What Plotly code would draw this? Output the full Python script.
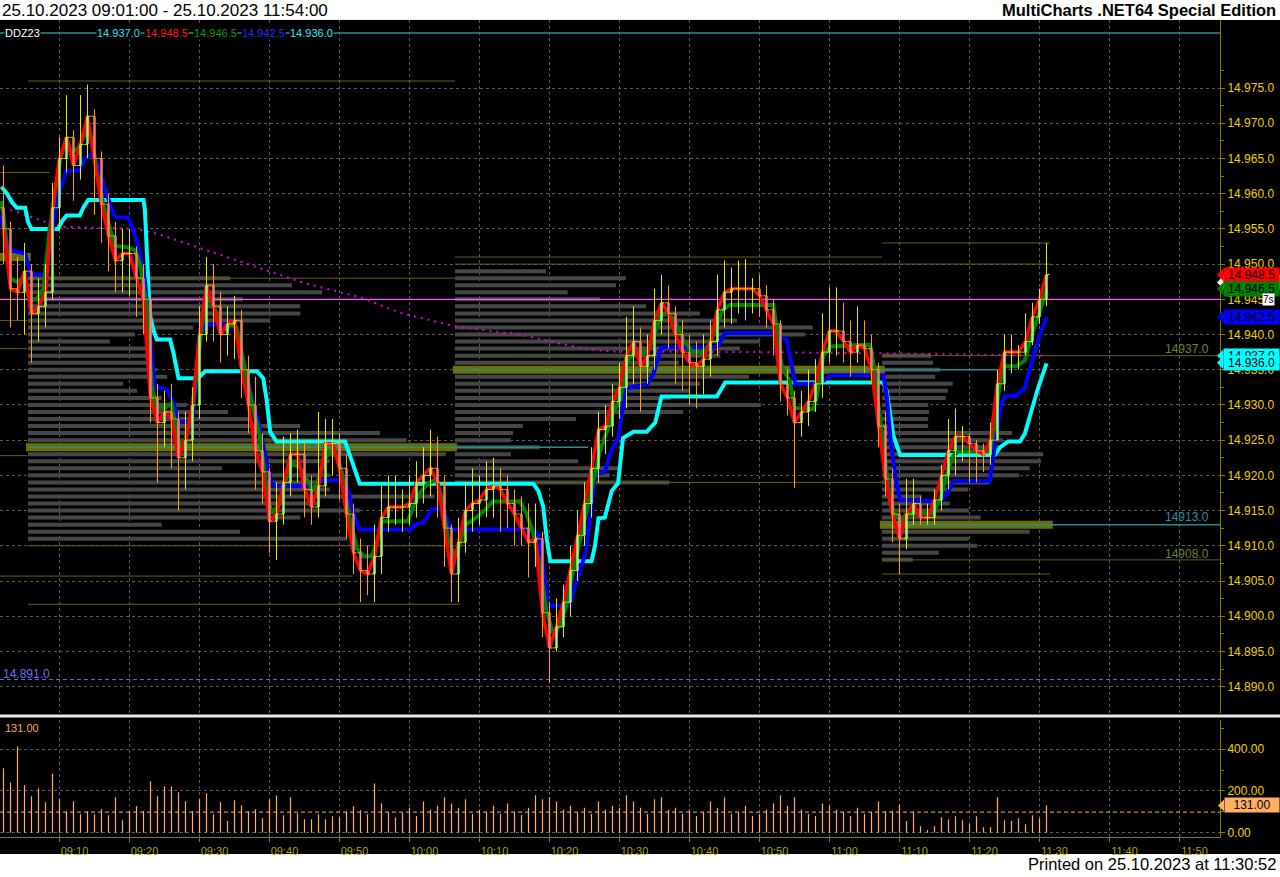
import plotly.graph_objects as go

W, H = 1280, 877


def px_x(x):
    return x / W


def px_y(y):
    return 1 - y / H


# ---------------- data ----------------
# 1-minute bars, labelled by close time (minutes after 09:00)
bar_min = list(range(2, 152))
first_open = 14958.0
closes = [
    14955, 14946.5, 14946, 14949, 14943, 14944, 14946, 14958, 14965, 14968,
    14964, 14967, 14971, 14965, 14958.5, 14954, 14950.5, 14951.5, 14951.5, 14948,
    14945, 14931, 14927.5, 14929, 14928, 14922.5, 14925, 14930, 14940, 14947,
    14944, 14940, 14941.5, 14942, 14935, 14930, 14923.5, 14920.5, 14913.5, 14914.5,
    14919, 14923, 14923, 14918, 14915.5, 14918.5, 14924.5, 14924.5, 14921, 14914.5,
    14909, 14906.5, 14906, 14908.5, 14914, 14915.5, 14915.5, 14915.5, 14916, 14919,
    14920, 14921, 14919, 14912.5, 14906, 14910.5, 14915, 14916, 14916.5, 14918,
    14918.5, 14918, 14916, 14914.5, 14912.5, 14910.5, 14911, 14900.5, 14895.5, 14898.5,
    14902, 14906.5, 14911.5, 14916, 14921, 14926.5, 14927, 14930.5, 14932.5, 14937,
    14939, 14935.5, 14937, 14942, 14944.5, 14943, 14940, 14937.5, 14936, 14935.5,
    14936.5, 14939, 14943.5, 14946, 14946.5, 14946.5, 14946.5, 14946.5, 14945.5, 14943.5,
    14941.5, 14933, 14931, 14927.5, 14929, 14930.5, 14933, 14937.5, 14940.5, 14940.5,
    14939, 14937.5, 14938.5, 14938, 14935, 14927, 14919.5, 14914.5, 14911, 14914.5,
    14916, 14914, 14914, 14916.5, 14920, 14923.5, 14925.5, 14925.5, 14924.5, 14923.5,
    14923, 14925, 14933, 14937.5, 14937.5, 14937.5, 14939, 14942.5, 14945, 14948.5,
]
highs = [
    14964, 14956, 14951, 14953, 14950, 14948, 14950, 14961.5, 14968, 14974,
    14969, 14974, 14975.5, 14972, 14966, 14960, 14956, 14955, 14955, 14952.5,
    14950, 14945, 14933, 14932, 14933, 14929, 14929, 14932.5, 14944, 14951,
    14950, 14946, 14944, 14945.5, 14943.5, 14937, 14934, 14926, 14921, 14919,
    14925.5, 14926, 14926.5, 14925, 14920, 14929, 14928, 14928, 14926, 14923,
    14916, 14911, 14910, 14913, 14919, 14920, 14920, 14918, 14920, 14922,
    14924, 14926.5, 14925.5, 14920, 14913, 14914, 14919, 14921, 14920, 14922,
    14922.5, 14921, 14920, 14918, 14917, 14916, 14916, 14912, 14902, 14902.5,
    14904.5, 14910, 14915, 14919, 14924, 14929, 14930, 14933, 14936, 14942.5,
    14944, 14941, 14940, 14946.5, 14948.5, 14947, 14944, 14942, 14940, 14939,
    14940, 14942, 14948.5, 14950.5, 14949.5, 14950.5, 14950.7, 14948, 14948.5, 14947,
    14945, 14942, 14935, 14932, 14932, 14935, 14936.5, 14943, 14946.7, 14946.7,
    14944.5, 14942, 14944, 14942, 14940, 14936, 14929, 14921, 14916, 14919.5,
    14919.5, 14917, 14916, 14918, 14921.5, 14928, 14929.5, 14927, 14926, 14925,
    14924.5, 14927.5, 14935, 14940, 14940, 14938.5, 14943, 14944.5, 14946.5, 14953,
]
lows = [
    14950, 14941, 14942, 14940, 14936, 14939, 14941, 14945, 14955, 14963,
    14959, 14962, 14965, 14957, 14953, 14949, 14946, 14946, 14945.5, 14942.5,
    14940, 14927.5, 14919, 14924, 14921, 14915, 14918, 14922, 14928, 14939,
    14939, 14936, 14937, 14936.5, 14931, 14926, 14918, 14916, 14909, 14908,
    14913, 14917, 14919, 14914, 14913, 14914, 14917, 14920, 14916.5, 14911,
    14906, 14902, 14903, 14902, 14906, 14912, 14913, 14912, 14913, 14914,
    14916, 14917, 14914, 14907, 14902, 14902, 14909, 14912, 14913, 14914,
    14914, 14912, 14912.5, 14910, 14910, 14905.5, 14907, 14897, 14890.5, 14895,
    14897, 14900, 14905, 14910, 14914, 14919, 14923, 14925.5, 14928, 14929.5,
    14933, 14929, 14933, 14935, 14940, 14938, 14933, 14932, 14930, 14929.5,
    14931.5, 14934, 14937, 14941, 14941.5, 14943, 14942, 14943, 14942.5, 14941,
    14937, 14930.5, 14928.5, 14918.2, 14925.5, 14927, 14929, 14931, 14936, 14937,
    14936, 14934, 14936, 14934.5, 14933, 14924, 14917, 14910.5, 14906, 14909.5,
    14913, 14913, 14913, 14913, 14915, 14918, 14920, 14922, 14919, 14919,
    14920.5, 14921.5, 14925, 14932, 14934.5, 14935, 14937, 14938.5, 14941.5, 14944,
]
volumes = [
    309, 241, 413, 227, 175, 213, 146, 284, 160, 103,
    151, 89, 103, 89, 113, 84, 170, 60, 103, 127,
    103, 246, 175, 222, 222, 194, 151, 103, 160, 189,
    89, 146, 56, 156, 132, 103, 113, 70, 160, 179,
    84, 170, 94, 65, 65, 89, 65, 79, 75, 103,
    127, 108, 89, 236, 141, 98, 75,
    95, 120, 80, 150, 110, 130, 170, 140, 120, 160,
    90, 110, 100, 130, 90, 140, 100, 85, 120, 180,
    160, 170, 150, 110, 130, 100, 120, 90, 150, 110,
    130, 120, 180, 150, 120, 90, 160, 170, 110, 120,
    90, 110, 80, 100, 150, 120, 170, 90, 100, 130,
    80, 90, 110, 140, 180, 130, 170, 110, 90, 80,
    140, 130, 110, 100, 80, 120, 90, 100, 150,
    103, 106, 136, 56, 102, 32, 13, 32, 75, 65,
    79, 60, 41, 79, 27, 27, 170, 60, 56, 70,
    41, 84, 70, 131,
]
vol_avg = 99.0

# indicator lines (knots: minute, price)
green_t = [1.7, 2.0, 2.9, 3.9, 4.8, 5.8, 6.7, 7.7, 8.6, 9.4, 10.1, 11.0, 11.7, 12.7, 13.9, 14.6, 15.3, 16.3,
           17.2, 17.9, 19.6, 20.8, 21.5, 22.5, 23.2, 23.9, 25.1, 26.0, 27.0, 27.9, 28.9, 29.8, 30.5, 31.3,
           32.2, 33.2, 34.4, 35.3, 36.3, 37.5, 38.6, 39.6, 40.3, 41.3, 42.2, 43.2, 44.4, 45.3, 46.3, 47.2,
           47.9, 48.6, 49.6, 50.3, 51.3, 52.5, 53.4, 54.6, 55.3, 56.0, 59.8, 60.8, 61.7, 62.7, 63.9, 64.6,
           65.5, 66.5, 67.2, 67.9, 68.9, 70.3, 71.9, 75.8, 76.7, 77.7, 78.6, 79.6, 80.5, 81.5, 82.5, 83.4,
           84.4, 85.3, 86.3, 87.2, 88.2, 89.1, 90.1, 91.0, 92.0, 93.9, 94.8, 95.8, 96.7, 97.9, 99.1, 100.5,
           102.0, 102.9, 103.9, 104.8, 105.8, 111.0, 112.0, 112.5, 113.2, 114.3, 115.0, 117.7, 118.2, 119.1,
           120.1, 124.4, 125.8, 126.3, 127.0, 128.0, 128.6, 129.3, 130.3, 131.0, 134.8, 135.8, 136.7, 137.7,
           138.4, 142.9, 143.6, 144.4, 145.0, 146.7, 147.9, 148.8, 149.8, 151.0]
green_v = [14959, 14957, 14948, 14947.5, 14948, 14945, 14945, 14946.5, 14955, 14960, 14965, 14967.8, 14965.8,
           14966.5, 14969, 14968, 14963.3, 14958.3, 14955, 14952.6, 14952.4, 14952, 14950, 14943.9, 14932.4,
           14929.6, 14929.6, 14930.2, 14924.5, 14924.5, 14928.5, 14937, 14942.6, 14945.3, 14943.6, 14940.3,
           14941.4, 14941, 14935.8, 14930.2, 14925.7, 14918, 14914.6, 14915.7, 14919, 14921.7, 14921, 14919.5,
           14917.8, 14920, 14922.3, 14923.4, 14923, 14920.6, 14914.6, 14909.6, 14908.5, 14908.5, 14910.2,
           14913.5, 14913.5, 14916.3, 14917.8, 14918.9, 14919.4, 14916.7, 14911.1, 14908.5, 14910.2, 14913,
           14913.5, 14914.6, 14916.3, 14916.3, 14914.6, 14911.7, 14907.2, 14900.5, 14897.6, 14898.7, 14901.9,
           14906.5, 14911, 14914.6, 14919.6, 14923.4, 14926.2, 14929, 14930.7, 14935.8, 14937.5, 14937.5,
           14939.2, 14942.5, 14943.1, 14942, 14939.2, 14937.5, 14937.5, 14938.6, 14941.4, 14943.6, 14944.2,
           14944.2, 14944.2, 14940.4, 14935.3, 14933.5, 14929.6, 14929.4, 14931.3, 14937, 14938.3, 14938.5,
           14938.5, 14935.8, 14930.2, 14922.3, 14916.7, 14914.6, 14913.5, 14914.6, 14914.6, 14916.7, 14920,
           14922.8, 14923.4, 14923.4, 14927.3, 14933.5, 14935.5, 14935.5, 14936.3, 14939.7, 14942.5, 14946.5]
blue_t = [1.7, 2.2, 2.9, 5.1, 5.8, 7.9, 8.6, 9.4, 10.1, 11.0, 12.9, 13.6, 14.4, 15.1, 15.8, 16.7, 17.7, 18.2,
          19.8, 20.5, 21.5, 22.2, 22.7, 23.2, 23.6, 24.8, 25.5, 26.3, 27.0, 28.9, 29.6, 30.1, 30.8, 34.8,
          35.5, 36.3, 37.0, 37.7, 38.6, 39.6, 40.3, 41.0, 46.3, 47.2, 50.8, 51.5, 52.2, 52.9, 60.1, 60.8,
          62.0, 63.2, 64.8, 65.5, 65.9, 77.7, 78.4, 79.1, 79.8, 82.9, 83.6, 84.4, 85.1, 85.8, 86.5, 87.9,
          88.9, 89.8, 90.3, 91.0, 93.9, 94.8, 95.5, 96.0, 103.9, 105.1, 112.0, 113.9, 114.6, 115.1, 118.6,
          120.1, 127.7, 128.2, 128.7, 129.4, 130.1, 135.8, 136.7, 137.7, 142.9, 143.6, 144.4, 145.0, 146.7,
          147.9, 148.8, 149.8, 151.0]
blue_v = [14957, 14953.8, 14952, 14951.5, 14948.7, 14948.4, 14952, 14957.7, 14960.5, 14963.3, 14963.3, 14965,
          14965.5, 14965.2, 14962.8, 14960, 14957.1, 14956.6, 14956.6, 14955, 14951.5, 14947.6, 14941.5, 14937,
          14932.4, 14932.4, 14931.9, 14930.2, 14927.6, 14927.6, 14933.5, 14939.7, 14941.4, 14941.4, 14939.2,
          14935.8, 14933, 14930.2, 14926.8, 14921.7, 14918.9, 14918.5, 14918.5, 14919.2, 14919.4, 14916.7,
          14913.9, 14912.3, 14912.3, 14913, 14913.3, 14915.2, 14915.2, 14913.3, 14912.3, 14912.3, 14911.6,
          14907.1, 14901.5, 14901.5, 14904.3, 14906.6, 14908.8, 14914, 14920.1, 14920.5, 14923.7, 14925.3,
          14928.7, 14932.4, 14932.9, 14934.3, 14936.6, 14938.2, 14938.2, 14940.2, 14940.2, 14939.2, 14935.6,
          14933, 14933, 14934.2, 14934.2, 14931.1, 14925.3, 14919.7, 14916.5, 14916.3, 14917.3, 14919.2,
          14919.2, 14924.4, 14929.6, 14931.3, 14931.3, 14932.4, 14935.8, 14939.2, 14942.5]
cyan_t = [1.7, 2.5, 3.2, 3.9, 5.1, 5.5, 6.0, 9.8, 10.3, 11.0, 12.9, 13.4, 14.1, 22.0, 22.2, 22.5, 22.9, 23.4,
          23.9, 25.8, 26.3, 27.0, 29.8, 30.8, 38.2, 39.1, 39.6, 40.1, 41.0, 50.8, 51.5, 52.5, 52.9, 77.7,
          78.4, 79.1, 79.6, 80.1, 86.0, 86.5, 87.0, 87.9, 88.9, 89.8, 90.5, 92.0, 93.9, 95.1, 96.0, 103.9,
          105.1, 127.7, 128.2, 128.7, 129.1, 130.1, 143.6, 144.4, 145.5, 147.2, 147.9, 148.8, 149.8, 151.0]
cyan_v = [14961, 14960, 14958.8, 14958, 14958, 14956, 14955, 14955, 14956, 14956.9, 14956.9, 14958, 14959.1,
          14959.1, 14957.7, 14951.4, 14942.9, 14940.7, 14939.3, 14939.3, 14937.3, 14933.8, 14933.8, 14934.8,
          14934.8, 14933.8, 14930.7, 14926.2, 14924.8, 14924.8, 14922.8, 14920, 14918.8, 14918.8, 14917.8,
          14915.6, 14911, 14907.8, 14907.8, 14910, 14913.9, 14914, 14917.8, 14918.9, 14925.3, 14926.2,
          14926.2, 14927.5, 14931.2, 14931.2, 14933.2, 14933.2, 14931.8, 14928.5, 14925.7, 14922.9, 14922.9,
          14924, 14924.8, 14924.8, 14925.9, 14929, 14932.4, 14935.9]
vwap_t = [3.0, 10.0, 21.0, 24.0, 45.0, 52.9, 58.6, 66.7, 75.8, 84.8, 88.6, 110.0, 130.0, 151.0]
vwap_v = [14957.7, 14955.3, 14955.0, 14954.3, 14947.3, 14945.3, 14943.1, 14941.1, 14940.0, 14938.0,
          14937.6, 14937.5, 14937.3, 14937.0]

# volume profiles: start minute, price levels, bar lengths (minutes-equivalent)
profA_start = 5.5
profA_prices = [14948, 14947, 14946, 14945, 14944, 14943, 14942, 14941, 14940, 14939, 14938, 14937, 14936,
                14935, 14934, 14933, 14932, 14931, 14930, 14929, 14928, 14927, 14926, 14925, 14923, 14922,
                14921, 14920, 14919, 14918, 14917, 14916, 14915, 14914, 14913, 14912, 14911]
profA_len = [28.9, 37.7, 42.0, 30.7, 38.9, 38.9, 34.6, 23.6, 15.3, 11.7, 17.4, 17.0, 17.0, 18.4, 19.9, 13.6,
             15.6, 19.1, 22.7, 28.6, 31.7, 38.9, 50.3, 54.1, 59.7, 43.1, 27.7, 43.1, 41.7, 43.1, 58.1, 41.7,
             47.4, 38.9, 19.1, 30.3, 45.6]
profB_start = 66.5
profB_prices = [14949, 14948, 14947, 14946, 14945, 14944, 14943, 14942, 14941, 14940, 14939, 14938, 14937,
                14936, 14934, 14933, 14932, 14931, 14930, 14929, 14928, 14927, 14926, 14925, 14924, 14923,
                14922, 14921, 14920, 14919]
profB_len = [13, 24.4, 23, 16.1, 20.7, 27.3, 35, 40.3, 51.1, 50, 43.6, 40.7, 37.9, 32, 42, 35, 33.6, 30.9,
             43.7, 32.6, 17.3, 9.7, 8.3, 8, 12.1, 8, 17.6, 23.6, 22.1, 30.6]
profC_start = 127.5
profC_prices = [14937, 14936, 14935, 14934, 14933, 14932, 14931, 14930, 14929, 14928, 14927, 14926, 14925,
                14924, 14923, 14922, 14921, 14920, 14919, 14918, 14917, 14916, 14915, 14914, 14912, 14911,
                14910, 14909, 14908]
profC_len = [7, 7.3, 8.3, 7.6, 10.1, 9.4, 9.1, 6.6, 6.7, 6.6, 6.6, 18.6, 17.3, 16.9, 23, 22.7, 21.1, 19.6,
             15.4, 12.3, 5.7, 9.7, 12.4, 14.1, 21.1, 12.4, 13.6, 8.1, 4.4]
poc_price = [14951.0, 14924.0, 14935.0, 14913.0]
poc_t0 = [1.5, 5.2, 66.2, 127.2]
poc_t1 = [5.9, 66.8, 127.9, 151.9]
teal_price = [14982.8, 14924.0, 14935.0, 14913.0]
teal_t0 = [1.5, 5.5, 66.5, 127.5]
teal_t1 = [175.8, 85.5, 143.9, 175.8]

# horizontal level lines
lvl_price = [14976.0, 14963.0, 14948.0, 14942.0, 14938.0, 14922.8, 14910.0, 14905.7, 14901.7,
             14951.0, 14950.0, 14919.0, 14953.0, 14937.0, 14908.0, 14906.0]
lvl_t0 = [5.5, 1.5, 5.5, 1.5, 1.5, 1.5, 5.5, 1.5, 5.5, 66.5, 66.5, 66.5, 127.5, 127.5, 127.5, 127.5]
lvl_t1 = [66.5, 8.6, 66.5, 5.4, 5.4, 5.4, 66.8, 51.9, 67.2, 127.5, 151.5, 127.5, 151.5, 175.8, 175.8, 151.5]
magenta_level = 14945.0
low_level = 14891.0

legend_vals = [14937.0, 14948.5, 14946.5, 14942.5, 14936.0]
time_ticks = list(range(10, 171, 10))
price_ticks = list(range(14890, 14976, 5))

# ---------------- figure ----------------
T0, T1 = 1.5, 175.786
XDOM = [0, 1220 / W]
opens = [first_open] + closes[:-1]


def fmt(v):
    return f"{v:,.1f}".replace(",", ".")


def segs(x0s, x1s, ys):
    xs, yy = [], []
    for a, b, y in zip(x0s, x1s, ys):
        xs += [a, b, None]
        yy += [y, y, None]
    return xs, yy


def vsegs(ts, y0s, y1s):
    xs, yy = [], []
    for t, a, b in zip(ts, y0s, y1s):
        xs += [t, t, None]
        yy += [a, b, None]
    return xs, yy


fig = go.Figure()


def line_trace(xs, ys, color, width, dash=None, xaxis="x", yaxis="y"):
    fig.add_trace(go.Scatter(x=xs, y=ys, mode="lines", xaxis=xaxis, yaxis=yaxis,
                             line=dict(color=color, width=width, dash=dash),
                             hoverinfo="skip", showlegend=False))


# volume profile bars
for start, prices, lens in [(profA_start, profA_prices, profA_len),
                            (profB_start, profB_prices, profB_len),
                            (profC_start, profC_prices, profC_len)]:
    xs, ys = segs([start] * len(prices), [start + l for l in lens], prices)
    line_trace(xs, ys, "#474747", 4)

# POC bands
xs, ys = segs(poc_t0, poc_t1, poc_price)
line_trace(xs, ys, "#6E6E00", 8)
xs, ys = segs(teal_t0, teal_t1, teal_price)
line_trace(xs, ys, "#2A8C8C", 1.5)

# level lines
xs, ys = segs(lvl_t0, lvl_t1, lvl_price)
line_trace(xs, ys, "#626214", 1)
line_trace([T0, T1], [magenta_level] * 2, "#FF55FF", 1.2)
line_trace([T0, T1], [low_level] * 2, "#7070E0", 1, dash="4px,3px")

# vwap dotted
line_trace(vwap_t, vwap_v, "#E000E0", 2, dash="2px,5px")

# indicator lines
line_trace(cyan_t, cyan_v, "#00FFFF", 4)
line_trace(blue_t, blue_v, "#0000FF", 4)
line_trace(green_t, green_v, "#008000", 4)
line_trace(bar_min, closes, "#FF0000", 3.5)

# price bars (wick + body + open/close ticks), drawn over the lines
up = [c >= o for o, c in zip(opens, closes)]
for is_up, wick_c, body_c in [(True, "#E8E800", "#A8F080"), (False, "#FFA500", "#F08070")]:
    idx = [i for i in range(len(bar_min)) if up[i] == is_up]
    ts = [bar_min[i] for i in idx]
    xs, ys = vsegs(ts, [lows[i] for i in idx], [highs[i] for i in idx])
    line_trace(xs, ys, wick_c, 1)
    xs, ys = vsegs(ts, [opens[i] for i in idx], [closes[i] for i in idx])
    line_trace(xs, ys, body_c, 2.5)
    xs, ys = segs([t - 0.45 for t in ts], ts, [opens[i] for i in idx])
    line_trace(xs, ys, wick_c, 1)
    xs, ys = segs(ts, [t + 0.45 for t in ts], [closes[i] for i in idx])
    line_trace(xs, ys, wick_c, 1)

# volume
xs, ys = vsegs(bar_min, [0] * len(volumes), volumes)
line_trace(xs, ys, "#FFB060", 1.2, xaxis="x2", yaxis="y2")
line_trace([T0, T1], [vol_avg] * 2, "#FFB060", 1, dash="4px,3px", xaxis="x2", yaxis="y2")

OLIVE = "#808000"
GRID = "#5A5A5A"
FONT = "Liberation Sans, Arial, sans-serif"

fig.update_layout(
    width=W, height=H, autosize=False,
    margin=dict(l=0, r=0, t=0, b=0),
    paper_bgcolor="white", plot_bgcolor="black",
    showlegend=False, hovermode=False,
    font=dict(family=FONT),
    xaxis=dict(domain=XDOM, range=[T0, T1], anchor="y", tickmode="array", tickvals=time_ticks,
               showticklabels=False, showgrid=True, gridcolor=GRID, griddash="dot", gridwidth=1,
               zeroline=False, showline=False, ticks="", fixedrange=True),
    xaxis2=dict(domain=XDOM, range=[T0, T1], anchor="y2", matches="x", tickmode="array",
                tickvals=time_ticks,
                ticktext=[f"{9 + m // 60:02d}:{m % 60:02d}" for m in time_ticks],
                showgrid=True, gridcolor=GRID, griddash="dot", zeroline=False,
                showline=True, linecolor=OLIVE, linewidth=1, ticks="outside", ticklen=4, tickcolor=OLIVE,
                tickfont=dict(size=11, color="#A8A800", family=FONT), ticklabelshift=15,
                ticklabelstandoff=0, fixedrange=True),
    yaxis=dict(domain=[px_y(715), px_y(20)], range=[14886.32, 14984.67], side="right", anchor="x",
               tickmode="array", tickvals=price_ticks, ticktext=[fmt(v) for v in price_ticks],
               tickfont=dict(size=12, color="#F2D000", family=FONT),
               ticks="outside", ticklen=4, tickcolor=OLIVE, showline=True, linecolor=OLIVE,
               showgrid=True, gridcolor=GRID, griddash="dot", zeroline=False, fixedrange=True,
               minor=dict(tickmode="array", tickvals=[v + 2.5 for v in price_ticks], ticks="outside",
                          ticklen=3, tickcolor=OLIVE, showgrid=False)),
    yaxis2=dict(domain=[px_y(839.5), px_y(722)], range=[-18.1, 541.4], side="right", anchor="x2",
                tickmode="array", tickvals=[0, 200, 400], ticktext=["0.00", "200.00", "400.00"],
                tickfont=dict(size=12, color="#F2D000", family=FONT),
                ticks="outside", ticklen=4, tickcolor=OLIVE, showline=True, linecolor=OLIVE,
                showgrid=True, gridcolor=GRID, griddash="dot", zeroline=False, fixedrange=True,
                minor=dict(tickmode="array", tickvals=[100, 300, 500], ticks="outside", ticklen=3,
                           tickcolor=OLIVE, showgrid=False)),
)

shapes = [
    dict(type="rect", xref="paper", yref="paper", x0=0, x1=1, y0=px_y(857), y1=px_y(20),
         fillcolor="black", line=dict(width=0), layer="below"),
    dict(type="line", xref="paper", yref="paper", x0=0, x1=1, y0=px_y(718.5), y1=px_y(718.5),
         line=dict(color="#E8E8E8", width=3), layer="above"),
]

ann = []


def text(x, y, s, size, color, xanchor="left", bg=None, yref="paper", bold=False, width=None):
    d = dict(x=x, y=y, xref="paper", yref=yref, text=f"<b>{s}</b>" if bold else s, showarrow=False,
             xanchor=xanchor, yanchor="middle", font=dict(size=size, color=color, family=FONT),
             borderpad=0)
    if bg:
        d["bgcolor"] = bg
    if width:
        d["width"] = width
        d["align"] = "center"
    ann.append(d)


text(px_x(1), px_y(10.5), "25.10.2023 09:01:00 - 25.10.2023 11:54:00", 17, "black")
text(px_x(1277), px_y(10.5), "MultiCharts .NET64 Special Edition", 16.5, "black", xanchor="right", bold=True)
text(px_x(1277), px_y(867), "Printed on 25.10.2023 at 11:30:52", 16.5, "black", xanchor="right")

text(px_x(4), px_y(33), "DDZ23", 11, "white", bg="black")
leg_x = [96, 144, 193, 241, 289]
leg_c = ["#33E0F0", "#FF1A1A", "#109A10", "#2828FF", "#22EEFF"]
for xx, v, c in zip(leg_x, legend_vals, leg_c):
    text(px_x(xx), px_y(33), fmt(v), 11, c, bg="black")

text(px_x(4), px_y(730), "131.00", 11, "#FFA860")
text(px_x(2), px_y(676), fmt(low_level), 12, "#7070E0")
text(px_x(1210), px_y(350), fmt(14937.0).replace(".", "", 1), 12, "#6B8420", xanchor="right")
text(px_x(1210), px_y(519), fmt(14913.0).replace(".", "", 1), 12, "#2A8FA0", xanchor="right")
text(px_x(1210), px_y(556), fmt(14908.0).replace(".", "", 1), 12, "#6B8420", xanchor="right")

# price tags on the right axis
tag_vals = [14947.4, legend_vals[1], legend_vals[2], legend_vals[3], legend_vals[0], legend_vals[4]]
tag_cols = ["#FFFFFF", "#FF0000", "#008000", "#0000FF", "#00FFFF", "#00FFFF"]
for v, c in zip(tag_vals, tag_cols):
    text(px_x(1223), v, fmt(v), 12, "black", bg=c, yref="y", width=55)
    shapes.append(dict(type="path", xref="paper", yref="y",
                       path=f"M {px_x(1217)} {v} L {px_x(1223)} {v + 0.85} L {px_x(1223)} {v - 0.85} Z",
                       fillcolor=c, line=dict(width=0), layer="above"))
text(px_x(1262), magenta_level, "7s", 10, "black", bg="white", yref="y")
text(px_x(1224), volumes[-1], f"{volumes[-1]:.2f}", 12, "black", bg="#FFB060", yref="y2", width=54)
shapes.append(dict(type="path", xref="paper", yref="y2",
                   path=f"M {px_x(1218)} {volumes[-1]} L {px_x(1224)} {volumes[-1] + 28} "
                        f"L {px_x(1224)} {volumes[-1] - 28} Z",
                   fillcolor="#FFB060", line=dict(width=0), layer="above"))

fig.update_layout(annotations=ann, shapes=shapes)
fig.write_html("out.html", config={"displayModeBar": False},
               post_script="document.body.style.margin='0';")
